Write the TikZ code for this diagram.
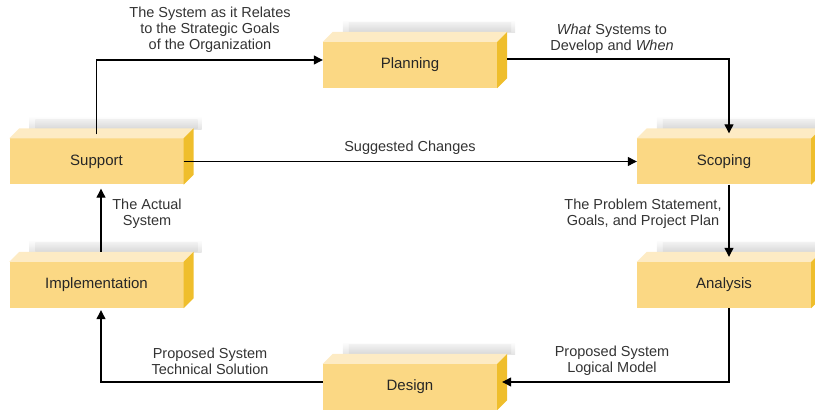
\documentclass[tikz,border=0pt]{standalone}
\usepackage{fontspec}
\setmainfont{Liberation Sans}
\usetikzlibrary{arrows.meta}
\pgfdeclarelayer{background}
\pgfsetlayers{background,main}
\definecolor{frontc}{HTML}{FBD884}
\definecolor{topc}{HTML}{FDEBC4}
\definecolor{sidec}{HTML}{EFBE2C}
\definecolor{txtc}{HTML}{333333}
\begin{document}
\begin{tikzpicture}[x=1pt,y=1pt,
  box/.style={fill=frontc, minimum width=174pt, minimum height=46pt, inner sep=0pt,
    font=\fontsize{15}{18}\selectfont, text=black!85},
  lbl/.style={align=center, font=\fontsize{14.5}{16}\selectfont, text=txtc, inner sep=0pt},
  conn/.style={line width=1.2pt, -{Triangle[length=9pt,width=9pt]}}]
\useasboundingbox (0,0) rectangle (815,410);

% boxes
\node[box] (support) at (96.5,248.5) {Support};
\node[box] (planning) at (410,345) {Planning};
\node[box] (scoping) at (724,248.5) {Scoping};
\node[box] (analysis) at (724,125) {Analysis};
\node[box] (implementation) at (96.5,125) {Implementation};
\node[box] (design) at (410,23) {Design};

\foreach \n in {support,planning,scoping,analysis,implementation,design}{
  \begin{pgfonlayer}{background}
    \shade[top color=white, bottom color=gray!22] ([shift={(20,9)}]\n.north west) rectangle ([shift={(18,22)}]\n.north east);
    \shade[top color=gray!12, bottom color=gray!30] ([shift={(26,10)}]\n.north west) rectangle ([shift={(14,19)}]\n.north east);
  \end{pgfonlayer}
  \fill[topc] (\n.north west) -- ++(10,10) -- ([shift={(10,10)}]\n.north east) -- (\n.north east) -- cycle;
  \fill[sidec] (\n.north east) -- ++(10,10) -- ([shift={(10,10)}]\n.south east) -- (\n.south east) -- cycle;
}

% connectors
\draw[conn] ([yshift=4]support.north) |- ([yshift=5]planning.west);
\draw[conn] ([shift={(10,6)}]planning.east) -| ([shift={(5,5)}]scoping.north);
\draw[conn] (support.east) -- (support.east -| scoping.west);
\draw[conn] ([xshift=5]scoping.south) -- ([shift={(5,5)}]analysis.north);
\draw[conn] ([xshift=5]analysis.south) |- ([shift={(5,5)}]design.east);
\draw[conn] ([yshift=5]design.west) -| ([shift={(4.5,-2)}]implementation.south);
\draw[conn] ([shift={(4.5,10)}]implementation.north) -- ([shift={(4.5,-4)}]support.south);

% labels
\node[lbl] (l1) at (210,380) {The System as it Relates\\to the Strategic Goals\\of the Organization};
\node[lbl] (l2) at (612,371) {\textit{What} Systems to\\Develop and \textit{When}};
\node[lbl] (l3) at (410,262) {Suggested Changes};
\node[lbl] (l4) at (643,196) {The Problem Statement,\\Goals, and Project Plan};
\node[lbl] (l5) at (147,196) {The Actual\\System};
\node[lbl] (l6) at (210,49) {Proposed System\\Technical Solution};
\node[lbl] (l7) at (612,49) {Proposed System\\Logical Model};
\end{tikzpicture}
\end{document}
